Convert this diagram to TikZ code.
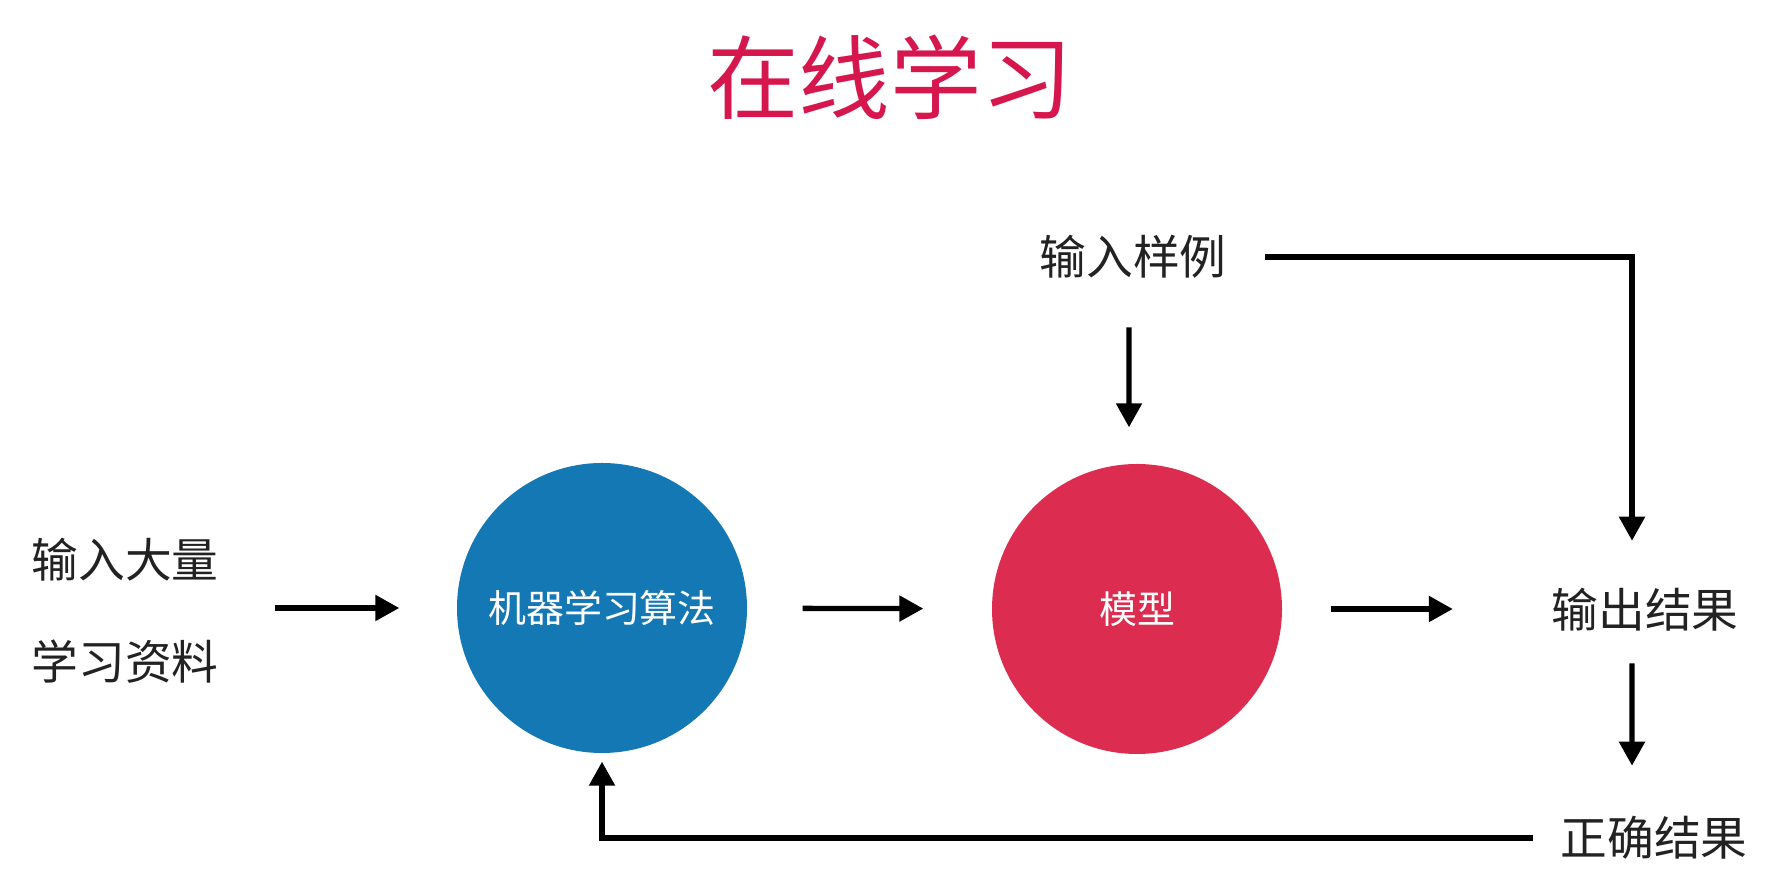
\documentclass[tikz,border=0pt]{standalone}
\usepackage{fontspec}
\setmainfont{Noto Sans CJK SC}
\usepackage{xcolor}
\usetikzlibrary{arrows.meta,positioning}
\definecolor{titlered}{HTML}{D6174E}
\definecolor{algoblue}{HTML}{1378B4}
\definecolor{modelred}{HTML}{DC2C50}
\definecolor{ink}{HTML}{222222}

\begin{document}
\begin{tikzpicture}[
  lbl/.style={text=ink,inner sep=0pt,font=\fontsize{13.3pt}{29pt}\selectfont,align=left},
  disc/.style={circle,minimum size=2.9cm,inner sep=0pt,text=white,font=\fontsize{10.8pt}{13pt}\selectfont},
  arr/.style={-{Triangle[length=0.24cm,width=0.25cm]},line width=1.5pt,black}]
  \useasboundingbox (0,0) rectangle (17.67,8.81);
  % ---- title
  \node[text=titlered,font=\fontsize{26pt}{30pt}\selectfont] (title) at (8.90,8.04) {在线学习};
  % ---- main row (y = 2.72)
  \node[lbl]  (in)    at (1.25,2.70)  {输入大量\\学习资料};
  \node[disc,fill=algoblue] (algo)  at (6.02,2.73)  {机器学习算法};
  \node[disc,fill=modelred] (model) at (11.37,2.72) {模型};
  \node[lbl]  (out)   at (16.45,2.71) {输出结果};
  % ---- top and bottom labels
  \node[lbl]  (sample) at (11.33,6.24) {输入样例};
  \node[lbl]  (right)  at (16.54,0.43) {正确结果};
  % ---- row arrows
  \draw[arr,shorten <=0.56cm,shorten >=0.57cm] (in.east |- algo) -- (algo.west);
  \draw[arr,shorten <=0.55cm,shorten >=0.68cm] (algo) -- (model);
  \draw[arr,shorten <=0.48cm,shorten >=0.98cm] (model.east) -- (out.west |- model);
  % ---- sample into model and output
  \draw[arr,shorten <=0.48cm,shorten >=0.36cm] ([xshift=-0.04cm]sample.south) -- ([xshift=-0.08cm]model.north);
  \draw[arr,shorten <=0.38cm,shorten >=0.47cm] (sample.east) -| ([xshift=-0.13cm]out.north);
  % ---- output checked, fed back
  \draw[arr,shorten <=0.31cm,shorten >=0.50cm] ([xshift=-0.13cm]out.south) -- ([xshift=-0.22cm]right.north);
  \draw[arr,shorten <=0.27cm,shorten >=0.08cm] (right.west) -| (algo.south);
\end{tikzpicture}
\end{document}
